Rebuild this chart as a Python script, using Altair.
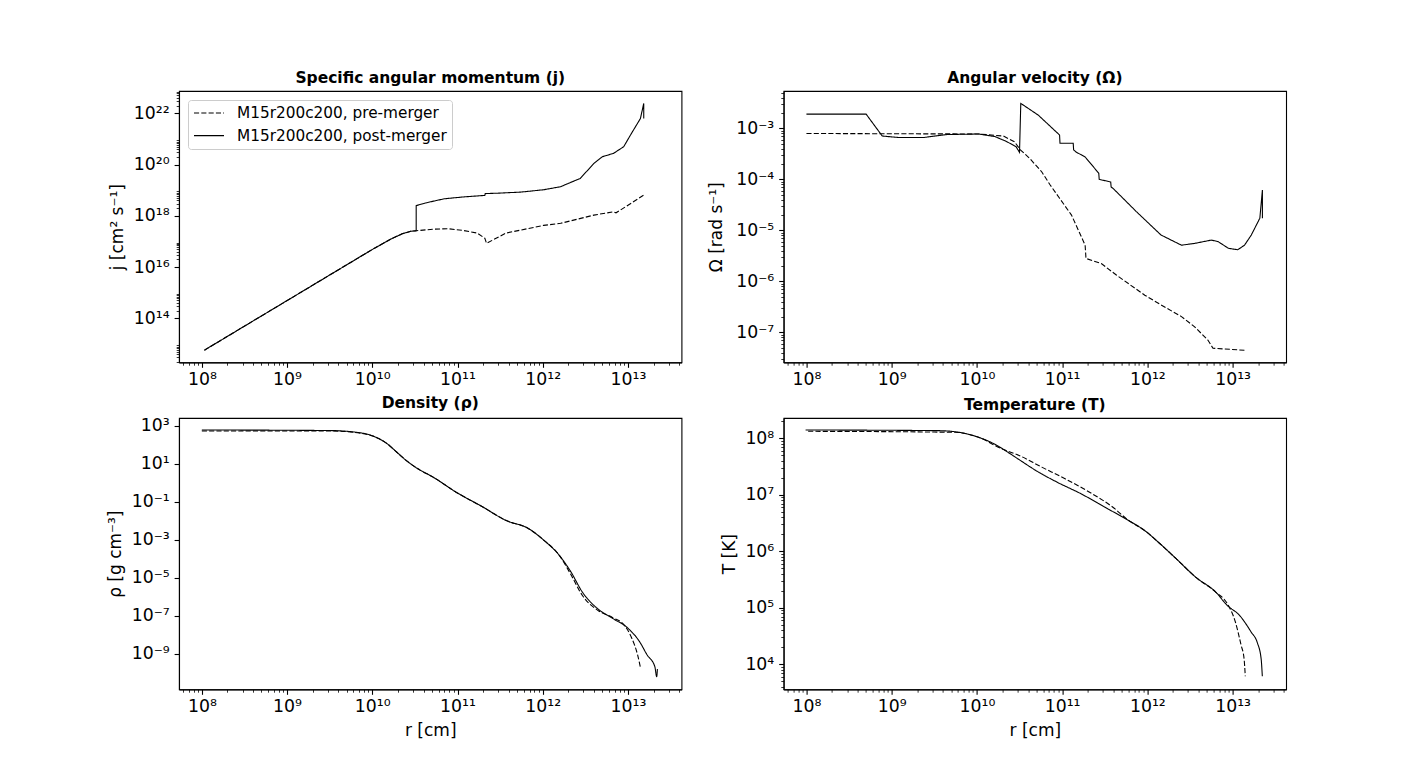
import math
import altair as alt
import pandas as pd

# ---------------- data (log10 readings) ----------------
SERIES = ["M15r200c200, pre-merger", "M15r200c200, post-merger"]

# Specific angular momentum j
j_pre_logr = [8.03, 10.0, 10.22, 10.35, 10.45, 10.515, 10.71, 10.89, 11.07, 11.23, 11.32, 11.34,
              11.57, 12.01, 12.21, 12.6, 12.83, 12.86, 13.185]
j_pre_logv = [12.76, 16.69, 17.10, 17.30, 17.40, 17.42, 17.48, 17.50, 17.43, 17.33, 17.13, 16.93,
              17.33, 17.63, 17.71, 18.03, 18.16, 18.12, 18.81]
j_post_logr = [8.03, 10.0, 10.22, 10.35, 10.45, 10.515, 10.515, 10.62, 10.75, 10.85, 11.07, 11.32,
               11.325, 11.5, 11.745, 12.01, 12.21, 12.33, 12.44, 12.6, 12.7, 12.83, 12.95, 13.03,
               13.146, 13.185, 13.185]
j_post_logv = [12.76, 16.69, 17.10, 17.30, 17.40, 17.42, 18.40, 18.50, 18.60, 18.67, 18.74, 18.80,
               18.87, 18.89, 18.93, 19.02, 19.14, 19.31, 19.46, 20.05, 20.31, 20.44, 20.70, 21.16,
               21.80, 22.39, 21.80]

# Angular velocity Omega
w_pre_logr = [8.0, 10.02, 10.31, 10.44, 10.51, 10.62, 10.76, 10.86, 10.97, 11.11, 11.20, 11.27,
              11.28, 11.46, 11.64, 11.97, 12.16, 12.40, 12.555, 12.71, 12.77, 13.14]
w_pre_logv = [-3.10, -3.11, -3.15, -3.26, -3.42, -3.59, -3.85, -4.11, -4.37, -4.70, -5.03, -5.29,
              -5.55, -5.65, -5.88, -6.27, -6.46, -6.69, -6.89, -7.15, -7.31, -7.35]
w_post_logr = [8.0, 8.70, 8.81, 8.89, 9.09, 9.37, 9.65, 10.02, 10.21, 10.34, 10.46, 10.50, 10.515,
               10.72, 10.97, 10.975, 11.13, 11.135, 11.16, 11.27, 11.43, 11.435, 11.57, 11.575,
               11.60, 11.87, 12.16, 12.40, 12.555, 12.75, 12.83, 12.95, 13.06, 13.14, 13.22,
               13.32, 13.35, 13.35]
w_post_logv = [-2.72, -2.72, -2.97, -3.15, -3.18, -3.18, -3.12, -3.11, -3.16, -3.25, -3.36, -3.47,
               -2.51, -2.74, -3.13, -3.29, -3.29, -3.42, -3.46, -3.56, -3.88, -4.0, -4.05, -4.15,
               -4.18, -4.63, -5.09, -5.29, -5.255, -5.19, -5.22, -5.35, -5.38, -5.29, -5.09,
               -4.76, -4.21, -4.76]

# Density rho
d_pre_logr = [8.0, 9.503, 9.862, 10.041, 10.176, 10.288, 10.40, 10.535, 10.714, 10.983, 11.297,
              11.566, 11.835, 12.014, 12.194, 12.33, 12.463, 12.642, 12.822, 12.956, 13.046,
              13.113, 13.144]
d_pre_logv = [2.72, 2.72, 2.60, 2.39, 2.04, 1.60, 1.16, 0.73, 0.29, -0.50, -1.28, -1.98, -2.42,
              -3.03, -3.82, -4.83, -5.92, -6.70, -7.10, -7.49, -8.19, -9.06, -9.67]
d_post_logr = [8.0, 9.503, 9.862, 10.041, 10.176, 10.288, 10.40, 10.535, 10.714, 10.983, 11.297,
               11.566, 11.835, 12.014, 12.194, 12.33, 12.463, 12.642, 12.822, 13.001, 13.136,
               13.225, 13.315, 13.337, 13.345]
d_post_logv = [2.77, 2.74, 2.62, 2.39, 2.04, 1.60, 1.16, 0.73, 0.29, -0.50, -1.28, -1.98, -2.42,
               -3.03, -3.82, -4.69, -5.74, -6.62, -7.14, -7.66, -8.36, -9.06, -9.67, -10.20,
               -9.80]

# Temperature T
t_pre_logr = [8.02, 9.74, 10.019, 10.297, 10.483, 10.761, 11.04, 11.317, 11.596, 11.781, 11.967,
              12.152, 12.338, 12.57, 12.802, 12.94, 13.033, 13.10, 13.135, 13.149]
t_pre_logv = [8.124, 8.106, 8.018, 7.81, 7.705, 7.49, 7.28, 7.05, 6.78, 6.545, 6.37, 6.13, 5.87,
              5.54, 5.28, 5.07, 4.75, 4.34, 4.10, 3.79]
t_post_logr = [7.99, 9.555, 9.833, 10.019, 10.204, 10.367, 10.483, 10.714, 10.946, 11.225, 11.503,
               11.781, 11.967, 12.152, 12.338, 12.57, 12.802, 12.94, 13.08, 13.219, 13.289,
               13.335, 13.349]
t_post_logv = [8.147, 8.135, 8.094, 8.018, 7.90, 7.75, 7.635, 7.41, 7.22, 7.016, 6.78, 6.545,
               6.37, 6.13, 5.87, 5.54, 5.28, 5.04, 4.87, 4.57, 4.39, 4.10, 3.79]

# axis ranges (log10)
X_LOG = (7.732, 13.628)
J_LOG = (12.283, 22.874)
W_LOG = (-7.588, -2.267)
D_LOG = (-10.87, 3.40)
T_LOG = (3.558, 8.359)

X_MAJOR = [8, 9, 10, 11, 12, 13]
J_MAJOR = [14, 16, 18, 20, 22]
W_MAJOR = [-7, -6, -5, -4, -3]
D_MAJOR = [3, 1, -1, -3, -5, -7, -9]
T_MAJOR = [4, 5, 6, 7, 8]

W, H = 502.5, 271.4
FONT = "DejaVu Sans"
SUP = str.maketrans("0123456789-", "⁰¹²³⁴⁵⁶⁷⁸⁹⁻")


def build(pre_r, pre_v, post_r, post_v):
    rows = []
    for name, rr, vv in ((SERIES[0], pre_r, pre_v), (SERIES[1], post_r, post_v)):
        for i, (a, b) in enumerate(zip(rr, vv)):
            rows.append({"r": 10 ** a, "v": 10 ** b, "series": name, "i": i})
    return pd.DataFrame(rows)


def tick_values(dom, majors, minor_decades):
    lo, hi = dom
    vals = [10.0 ** e for e in majors if lo <= e <= hi]
    for n in minor_decades:
        for k in range(2, 10):
            lv = math.log10(k) + n
            if lo <= lv <= hi:
                vals.append(k * 10.0 ** n)
    return vals


def label_expr(exps):
    return "".join(
        f"abs(log(datum.value)/LN10 - ({e})) < 0.01 ? '10{str(e).translate(SUP)}' : " for e in exps
    ) + "''"


MAJOR_TEST = "abs(log(datum.value)/LN10 - round(log(datum.value)/LN10)) < 0.001"
TICK_SIZE = {"condition": {"test": MAJOR_TEST, "value": 4.9}, "value": 2.8}
TICK_WIDTH = {"condition": {"test": MAJOR_TEST, "value": 1.1}, "value": 0.8}
LABEL_SIZE = {"condition": {"test": MAJOR_TEST, "value": 17.3}, "value": 0}


def axis_common():
    return dict(
        tickSize=TICK_SIZE, tickWidth=TICK_WIDTH, labelFontSize=LABEL_SIZE,
        labelOverlap=False, labelFlush=False, labelBound=False, grid=False,
    )


def panel(df, title, ydom, ymajor, yminor, ytitle, ytitle_x, xtitle, legend, smooth):
    xvals = tick_values(X_LOG, X_MAJOR, range(7, 14))
    if xtitle:
        xaxis = alt.Axis(values=xvals, labelExpr=label_expr(X_MAJOR), labelPadding=3.5,
                         title=xtitle, titleX=W / 2, titleY=41, titleBaseline="middle",
                         titleAlign="center", **axis_common())
    else:
        xaxis = alt.Axis(values=xvals, labelExpr=label_expr(X_MAJOR), labelPadding=3.5,
                         title=None, **axis_common())
    yaxis = alt.Axis(
        values=tick_values(ydom, ymajor, yminor), labelExpr=label_expr(ymajor), labelPadding=4.9,
        title=ytitle, titleX=ytitle_x, titleY=H / 2, titleAngle=270, titleBaseline="middle",
        titleAlign="center", **axis_common(),
    )
    if legend:
        leg = alt.Legend(
            orient="top-left", title=None, offset=9, padding=5,
            strokeColor="#cccccc", fillColor="rgba(255,255,255,0.8)", cornerRadius=3,
            labelFont=FONT, labelFontSize=15.3, labelColor="black", labelLimit=400,
            symbolType="stroke", symbolSize=900, symbolStrokeWidth=1.2,
            symbolStrokeColor="black", rowPadding=5.7, clipHeight=16, labelOffset=12,
        )
    else:
        leg = None
    mark = alt.Chart(df).mark_line(
        color="black", strokeWidth=1.1, clip=True,
        interpolate="monotone" if smooth else "linear",
    )
    return mark.encode(
        x=alt.X("r:Q", scale=alt.Scale(type="log", domain=[10 ** X_LOG[0], 10 ** X_LOG[1]],
                                       nice=False, zero=False), axis=xaxis),
        y=alt.Y("v:Q", scale=alt.Scale(type="log", domain=[10 ** ydom[0], 10 ** ydom[1]],
                                       nice=False, zero=False), axis=yaxis),
        strokeDash=alt.StrokeDash("series:N",
                                  scale=alt.Scale(domain=SERIES, range=[[5.1, 2.2], [1, 0]]),
                                  legend=leg),
        order=alt.Order("i:Q"),
    ).properties(
        width=W, height=H,
        title=alt.TitleParams(title, font=FONT, fontSize=15.5, fontWeight="bold", color="black",
                              anchor="middle", baseline="middle", offset=-2),
    )


tl = panel(build(j_pre_logr, j_pre_logv, j_post_logr, j_post_logv),
           "Specific angular momentum (j)", J_LOG, J_MAJOR, range(12, 24, 2),
           "j [cm² s⁻¹]", -61.6, None, True, False)
tr = panel(build(w_pre_logr, w_pre_logv, w_post_logr, w_post_logv),
           "Angular velocity (Ω)", W_LOG, W_MAJOR, range(-8, -2),
           "Ω [rad s⁻¹]", -67.3, None, False, False)
bl = panel(build(d_pre_logr, d_pre_logv, d_post_logr, d_post_logv),
           "Density (ρ)", D_LOG, D_MAJOR, [],
           "ρ [g cm⁻³]", -63.3, "r [cm]", False, True)
br = panel(build(t_pre_logr, t_pre_logv, t_post_logr, t_post_logv),
           "Temperature (T)", T_LOG, T_MAJOR, range(3, 9),
           "T [K]", -54.3, "r [cm]", False, True)

chart = alt.concat(
    tl, tr, bl, br, columns=2, spacing={"row": 55, "column": 101.6}, bounds="flush",
).resolve_scale(strokeDash="independent").resolve_legend(strokeDash="independent").properties(
    padding={"left": 98, "top": 61, "right": 10, "bottom": 10},
    background="white",
).configure_view(
    stroke="black", strokeWidth=1.1,
).configure_axis(
    domainColor="black", domainWidth=1.1, tickColor="black", labelColor="black",
    titleColor="black", labelFont=FONT, titleFont=FONT, titleFontSize=17,
    titleFontWeight="normal",
)

chart.save("out.html", embed_options={"renderer": "svg", "actions": False})
